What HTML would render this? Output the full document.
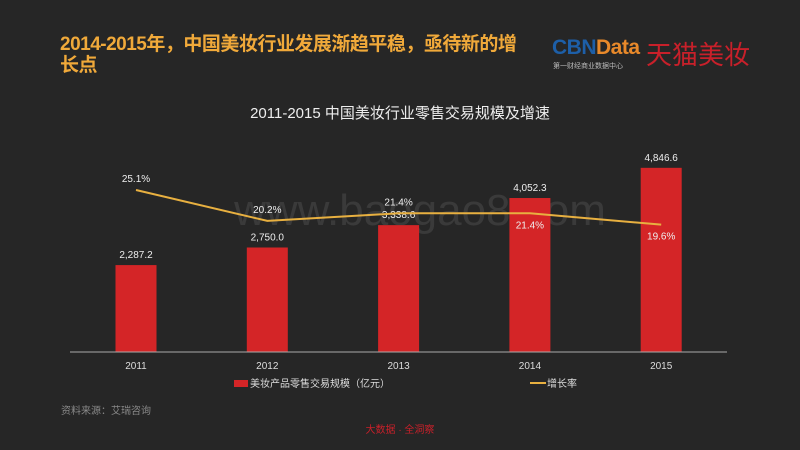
<!DOCTYPE html>
<html><head><meta charset="utf-8"><style>
body{margin:0;background:#262626;width:800px;height:450px;overflow:hidden;font-family:"Liberation Sans","Noto Sans CJK SC",sans-serif}
.t{position:absolute;}
</style></head><body>
<div class="t" style="left:60px;top:34px;width:470px;color:#f0a93a;font-size:19px;font-weight:bold;line-height:21px;letter-spacing:-0.5px">2014-2015年，中国美妆行业发展渐趋平稳，亟待新的增长点</div>
<div class="t" style="left:552px;top:36px;font-size:21px;font-weight:bold;letter-spacing:-0.5px"><span style="color:#1d5fa8">CBN</span><span style="color:#e8892a">Data</span></div>
<div class="t" style="left:553px;top:61px;font-size:7px;color:#bbb">第一财经商业数据中心</div>
<div class="t" style="left:646px;top:35px;font-size:26px;color:#c8202a">天猫美妆</div>
<svg width="800" height="450" style="position:absolute;left:0;top:0">
<text x="400" y="118" fill="#eee" font-size="15" text-anchor="middle">2011-2015 中国美妆行业零售交易规模及增速</text>
<text x="420" y="225" fill="#3a3a3a" font-size="44" text-anchor="middle">www.baogao8.com</text>
<g id="g"></g>
<line x1="70" y1="352" x2="727" y2="352" stroke="#aaa" stroke-width="1"/>
<rect x="234" y="380" width="14" height="7" fill="#d42527"/>
<text x="250" y="387" fill="#ddd" font-size="10">美妆产品零售交易规模（亿元）</text>
<line x1="530" y1="383" x2="546" y2="383" stroke="#e8b040" stroke-width="2"/>
<text x="547" y="387" fill="#ddd" font-size="10">增长率</text>
<text x="61" y="414" fill="#888" font-size="10">资料来源：艾瑞咨询</text>
<text x="400" y="433" fill="#c8202a" font-size="10" text-anchor="middle">大数据 · 全洞察</text>
</svg>
<script>
const years=["2011","2012","2013","2014","2015"];
const sales=[2287.2,2750.0,3338.6,4052.3,4846.6];
const salesLabels=["2,287.2","2,750.0","3,338.6","4,052.3","4,846.6"];
const growth=[25.1,20.2,21.4,21.4,19.6];
const labelBelow=[false,false,false,true,true];
const ns="http://www.w3.org/2000/svg",g=document.getElementById('g');
const xc=i=>136+i*131.3, yb=v=>352-v*0.038, yl=v=>190+(25.1-v)*6.3;
function mk(t,a){const e=document.createElementNS(ns,t);for(const k in a)e.setAttribute(k,a[k]);g.appendChild(e);return e;}
years.forEach((y,i)=>{
 const r=mk('rect',{x:xc(i)-20.5,y:yb(sales[i]),width:41,height:352-yb(sales[i]),fill:'#d42527'});
 
 
 const t=mk('text',{x:xc(i),y:yb(sales[i])-7,fill:'#eee','font-size':10,'text-anchor':'middle'});t.textContent=salesLabels[i];
 
 
 const xt=mk('text',{x:xc(i),y:369,fill:'#ddd','font-size':10,'text-anchor':'middle'});xt.textContent=y;
 
 
});
const pl=mk('polyline',{points:growth.map((v,i)=>xc(i)+','+yl(v)).join(' '),fill:'none',stroke:'#e8b040','stroke-width':2});


growth.forEach((v,i)=>{
 const t=mk('text',{x:xc(i),y:labelBelow[i]?yl(v)+15:yl(v)-8,fill:'#eee','font-size':10,'text-anchor':'middle'});t.textContent=v.toFixed(1)+'%';
 
 
});
</script>
</body></html>
